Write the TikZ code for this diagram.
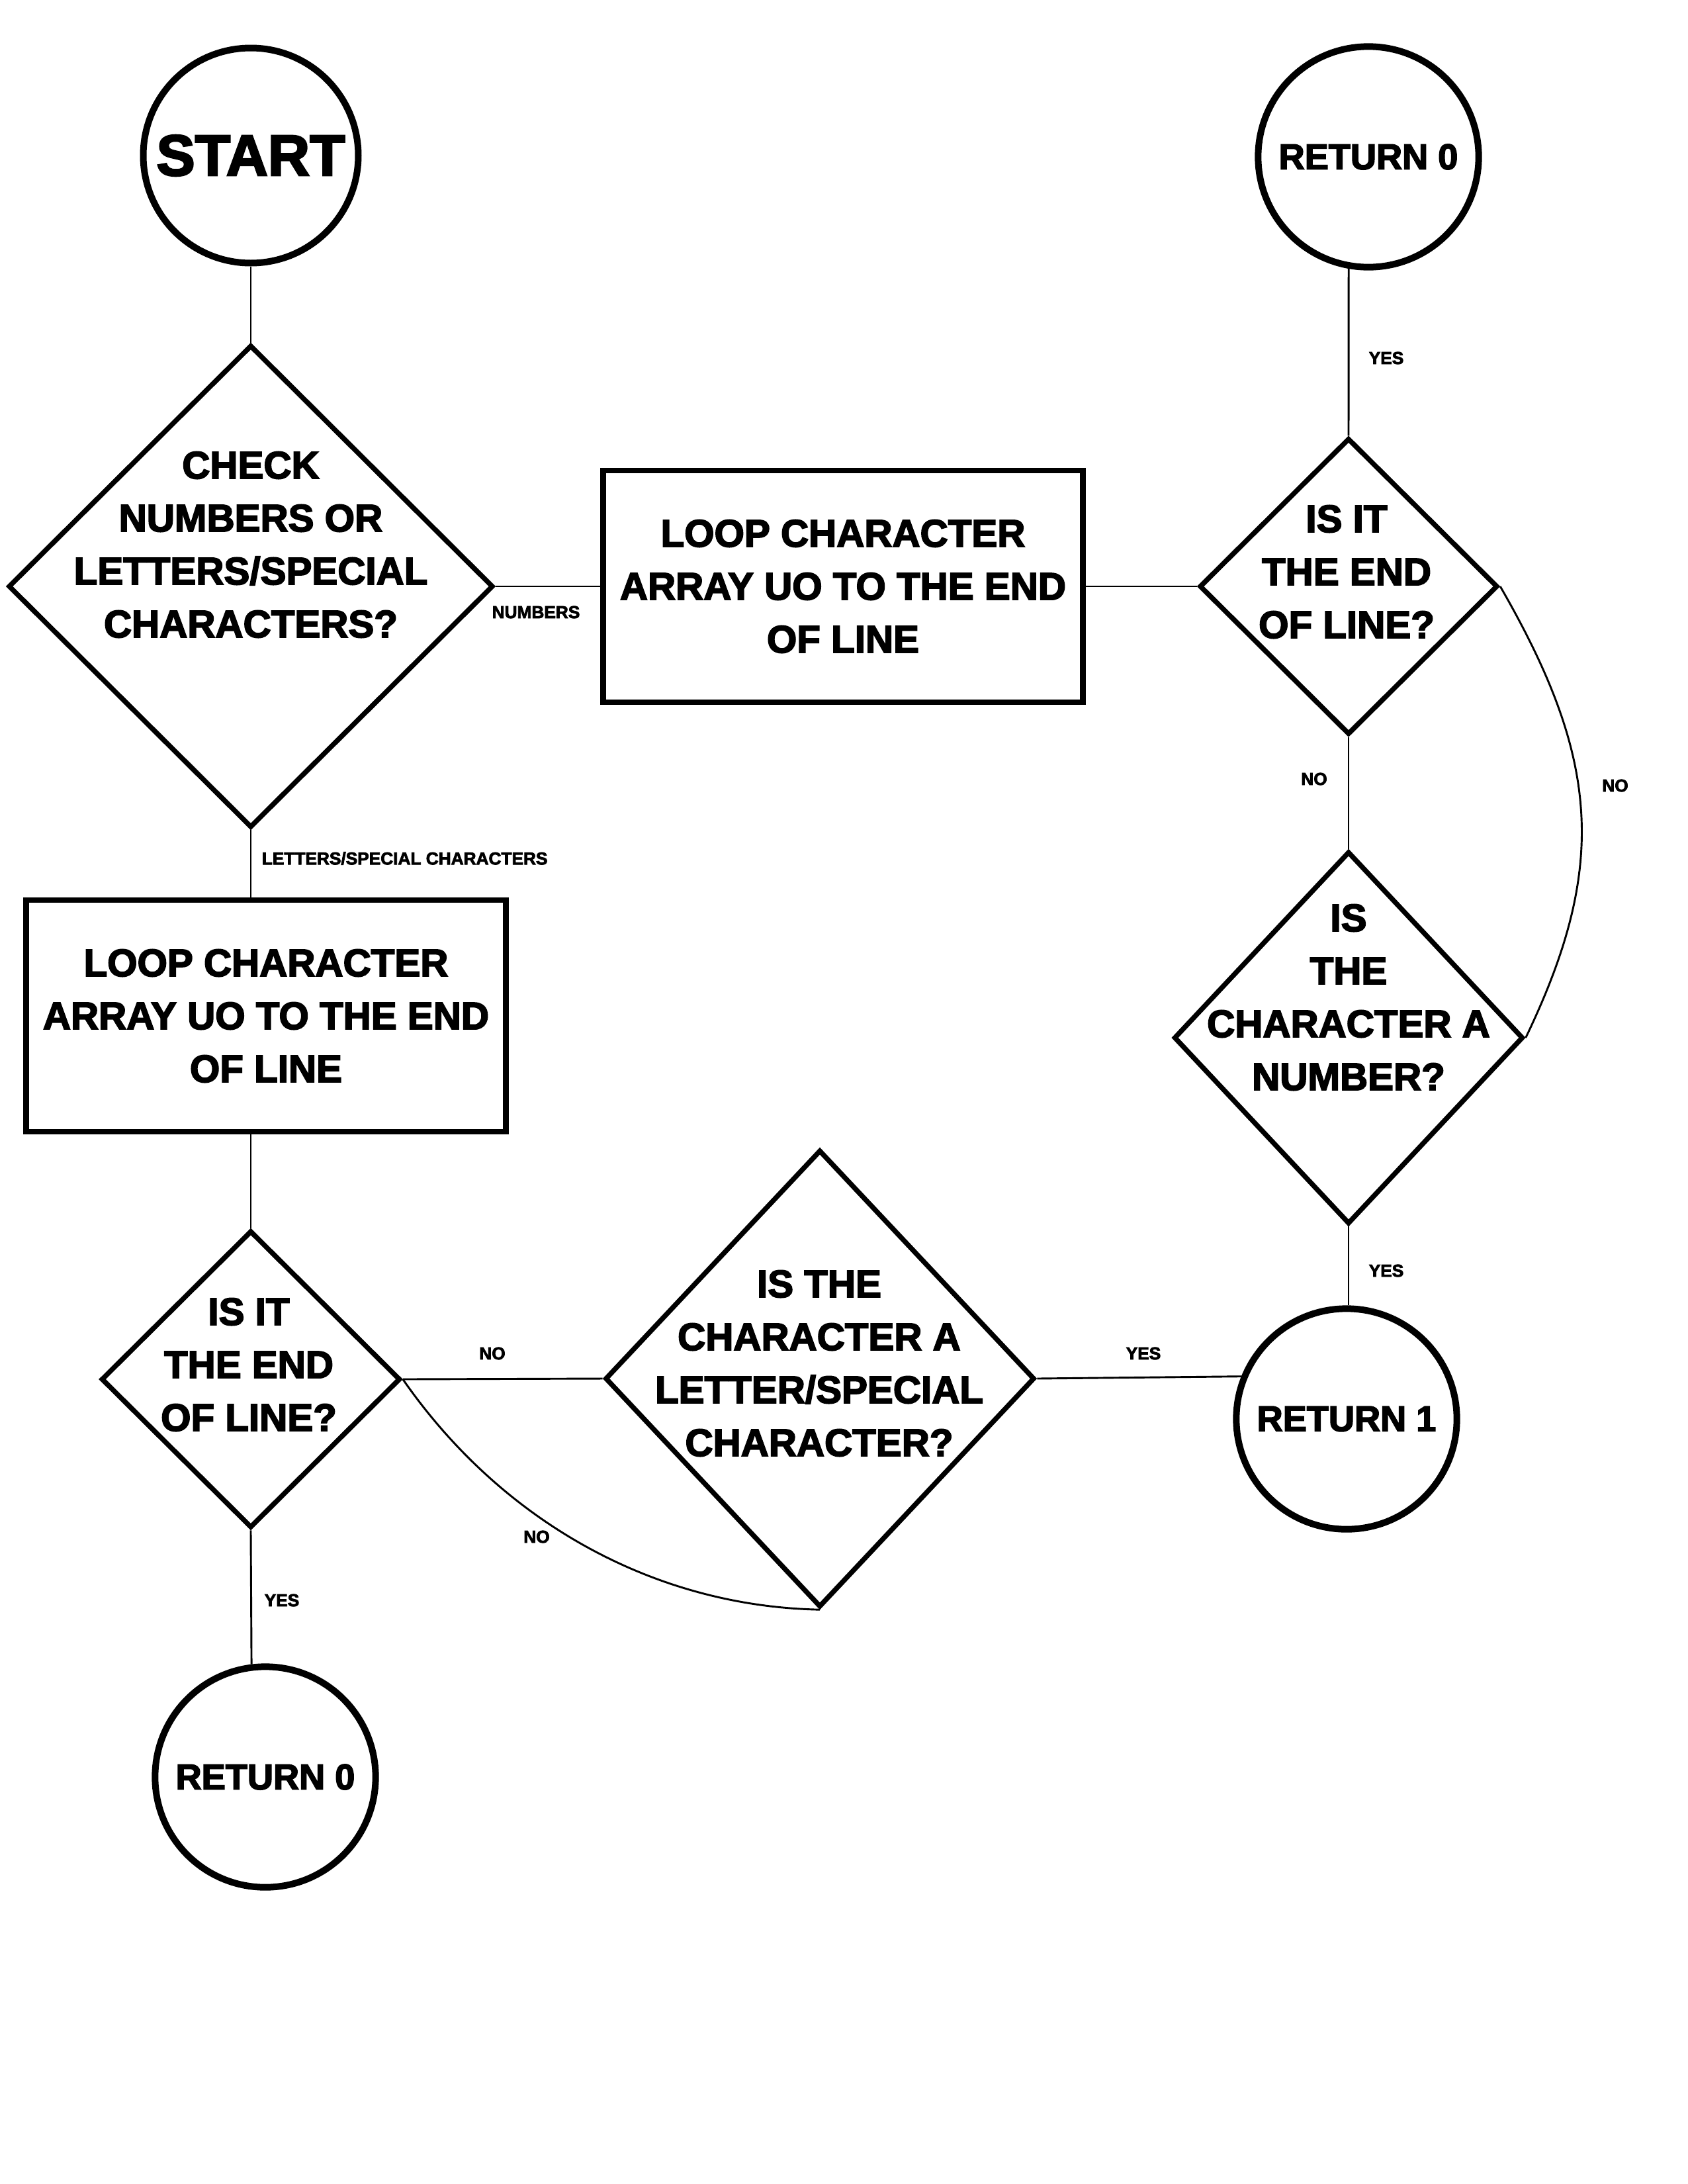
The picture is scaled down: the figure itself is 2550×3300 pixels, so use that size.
\documentclass[tikz,border=0pt]{standalone}
\usepackage{fontspec}
\setmainfont{Liberation Sans}
\newfontfamily\heavyfont{Liberation Sans Bold}[FakeBold = 3]
\usetikzlibrary{shapes.geometric}
\newcommand{\bigfont}{\heavyfont\fontsize{14}{19.2}\selectfont}
\newcommand{\returnfont}{\heavyfont\fontsize{13}{15}\selectfont}
\newcommand{\branchfont}{\heavyfont\fontsize{6.3}{7.5}\selectfont}
\tikzset{
decision/.style = { diamond, draw = black, fill = white, line width = 1.8pt, inner sep = 0pt },
process/.style = { rectangle, draw = black, fill = white, line width = 2pt, minimum width = 174pt, minimum height = 84pt, inner sep = 0pt, align = center, font = \bigfont },
terminal/.style = { circle, draw = black, fill = white, line width = 2.4pt, minimum size = 80pt, inner sep = 0pt, font = \returnfont },
question/.style = { align = center, font = \bigfont, inner sep = 0pt },
branch/.style = { font = \branchfont, inner sep = 0pt },
link/.style = { draw = black, line width = 0.7pt },
}

\begin{document}
\begin{tikzpicture}[x = 0.24pt, y = -0.24pt]
    \useasboundingbox (0, 0) rectangle (2550, 3300);
    \node[terminal, minimum size = 78pt, font = \heavyfont\fontsize{21}{24}\selectfont] (start) at (379, 235) {START};
    \node[terminal] (retA) at (2068, 237) {RETURN 0};
    \node[terminal] (retB) at (2035, 2144) {RETURN 1};
    \node[terminal] (retC) at (401, 2685) {RETURN 0};
    \node[decision, minimum width = 175.9pt, minimum height = 175pt] (check) at (379, 886) {};
    \node[decision, minimum width = 108.2pt, minimum height = 107.5pt] (endA) at (2038, 886) {};
    \node[decision, minimum width = 126.7pt, minimum height = 135.1pt] (numq) at (2038, 1568) {};
    \node[decision, minimum width = 108.5pt, minimum height = 107.8pt] (endB) at (379, 2084) {};
    \node[decision, minimum width = 155.8pt, minimum height = 165.8pt] (letq) at (1239, 2083) {};
    \node[question] (checkTxt) at (379, 823) {CHECK\\NUMBERS OR\\LETTERS/SPECIAL\\CHARACTERS?};
    \node[question] (endATxt) at (2035, 864) {IS IT\\THE END\\OF LINE?};
    \node[question] (numqTxt) at (2038, 1507) {IS\\THE\\CHARACTER A\\NUMBER?};
    \node[question] (endBTxt) at (376, 2062) {IS IT\\THE END\\OF LINE?};
    \node[question] (letqTxt) at (1238, 2060) {IS THE\\CHARACTER A\\LETTER/SPECIAL\\CHARACTER?};
    \node[process] (loopA) at (1274, 886) {LOOP CHARACTER\\ARRAY UO TO THE END\\OF LINE};
    \node[process] (loopB) at (402, 1535) {LOOP CHARACTER\\ARRAY UO TO THE END\\OF LINE};
    % branch labels
    \node[branch] (numL) at (810, 925) {NUMBERS};
    \node[branch, anchor = west] (letL) at (395, 1297) {LETTERS/SPECIAL CHARACTERS};
    \node[branch] (yesA) at (2095, 541) {YES};
    \node[branch] (noA) at (1986, 1177) {NO};
    \node[branch] (noB) at (2441, 1187) {NO};
    \node[branch] (yesB) at (2095, 1920) {YES};
    \node[branch] (noC) at (744, 2045) {NO};
    \node[branch] (noD) at (811, 2322) {NO};
    \node[branch] (yesC) at (1728, 2045) {YES};
    \node[branch] (yesD) at (426, 2418) {YES};
    % connectors
    \draw[link] (start.south) -- (check.north);
    \draw[link] (check.east) -- (loopA.west);
    \draw[link] (loopA.east) -- (endA.west);
    \draw[link] (endA.north) -- (retA.-100);
    \draw[link] (endA.south) -- (numq.north);
    \draw[link] (endA.east) .. controls +(150, 260) and +(125, -260) .. (numq.east);
    \draw[link] (numq.south) -- (numq.south |- retB.north);
    \draw[link] (check.south) -- (check.south |- loopB.north);
    \draw[link] (loopB.south -| endB.north) -- (endB.north);
    \draw[link] (endB.east) -- (letq.west);
    \draw[link] (endB.east) .. controls +(150, 216) and +(-250, -5) .. (letq.south);
    \draw[link] (letq.east) -- (retB.158);
    \draw[link] (endB.south) -- (retC.97);
\end{tikzpicture}
\end{document}
